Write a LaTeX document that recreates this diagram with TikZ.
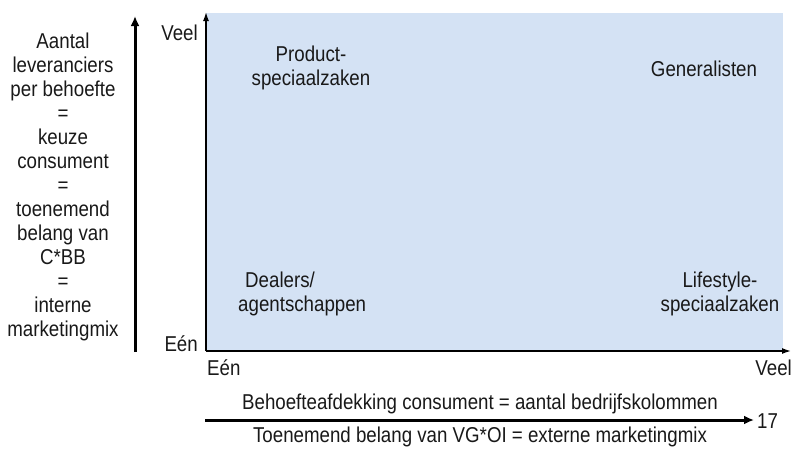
\documentclass[tikz,border=0pt]{standalone}
\usepackage{fontspec}
\setmainfont{Liberation Sans}[FakeStretch=0.87]
\usetikzlibrary{arrows.meta}
\definecolor{quadblue}{RGB}{212,226,244}
\tikzset{
  lbl/.style={font=\fontsize{21.5}{24}\selectfont, inner sep=0pt, text=black!90},
  thickarrow/.style={line width=3pt, -{Latex[length=10pt,width=9pt]}},
  axisarrow/.style={line width=1.4pt, -{Latex[length=9pt,width=6pt]}}
}
\begin{document}
\begin{tikzpicture}[x=1pt,y=-1pt]
\useasboundingbox (0,0) rectangle (792,448);
\fill[quadblue] (206,13) rectangle (783,351);
\coordinate (o) at (206,351);
\coordinate (ytop) at (206,12);
\coordinate (xend) at (791,351);
\draw[axisarrow] (o) -- (ytop);
\draw[axisarrow] (o) -- (xend);
\coordinate (la0) at (135,352);
\coordinate (la1) at (135,16);
\draw[thickarrow] (la0) -- (la1);
\node[lbl, align=center] (lefttxt) at (63,187) {Aantal\\leveranciers\\per behoefte\\=\\keuze\\consument\\=\\toenemend\\belang van\\C*BB\\=\\interne\\marketingmix};
\node[lbl, anchor=east] (yveel) at (198,33) {Veel};
\node[lbl, anchor=east] (yeen) at (198,344) {Eén};
\node[lbl, anchor=west] (xeen) at (207,368) {Eén};
\node[lbl, anchor=east] (xveel) at (792,368) {Veel};
\node[lbl, align=center] (ps) at (311,68) {Product-\\speciaalzaken};
\node[lbl] (gen) at (704,69) {Generalisten};
\node[lbl, align=left, anchor=west] (dea) at (238,294) {\hspace*{7pt}Dealers/\\agentschappen};
\node[lbl, align=center] (life) at (720,294) {Lifestyle-\\speciaalzaken};
\coordinate (ba0) at (205,420);
\coordinate (ba1) at (754,420);
\draw[thickarrow] (ba0) -- (ba1);
\node[lbl, anchor=west] (n17) at (757,421) {17};
\node[lbl] (beh) at (480,404) {Behoefteafdekking consument = aantal bedrijfskolommen};
\node[lbl] (toe) at (480,437) {Toenemend belang van VG*OI = externe marketingmix};
\end{tikzpicture}
\end{document}
